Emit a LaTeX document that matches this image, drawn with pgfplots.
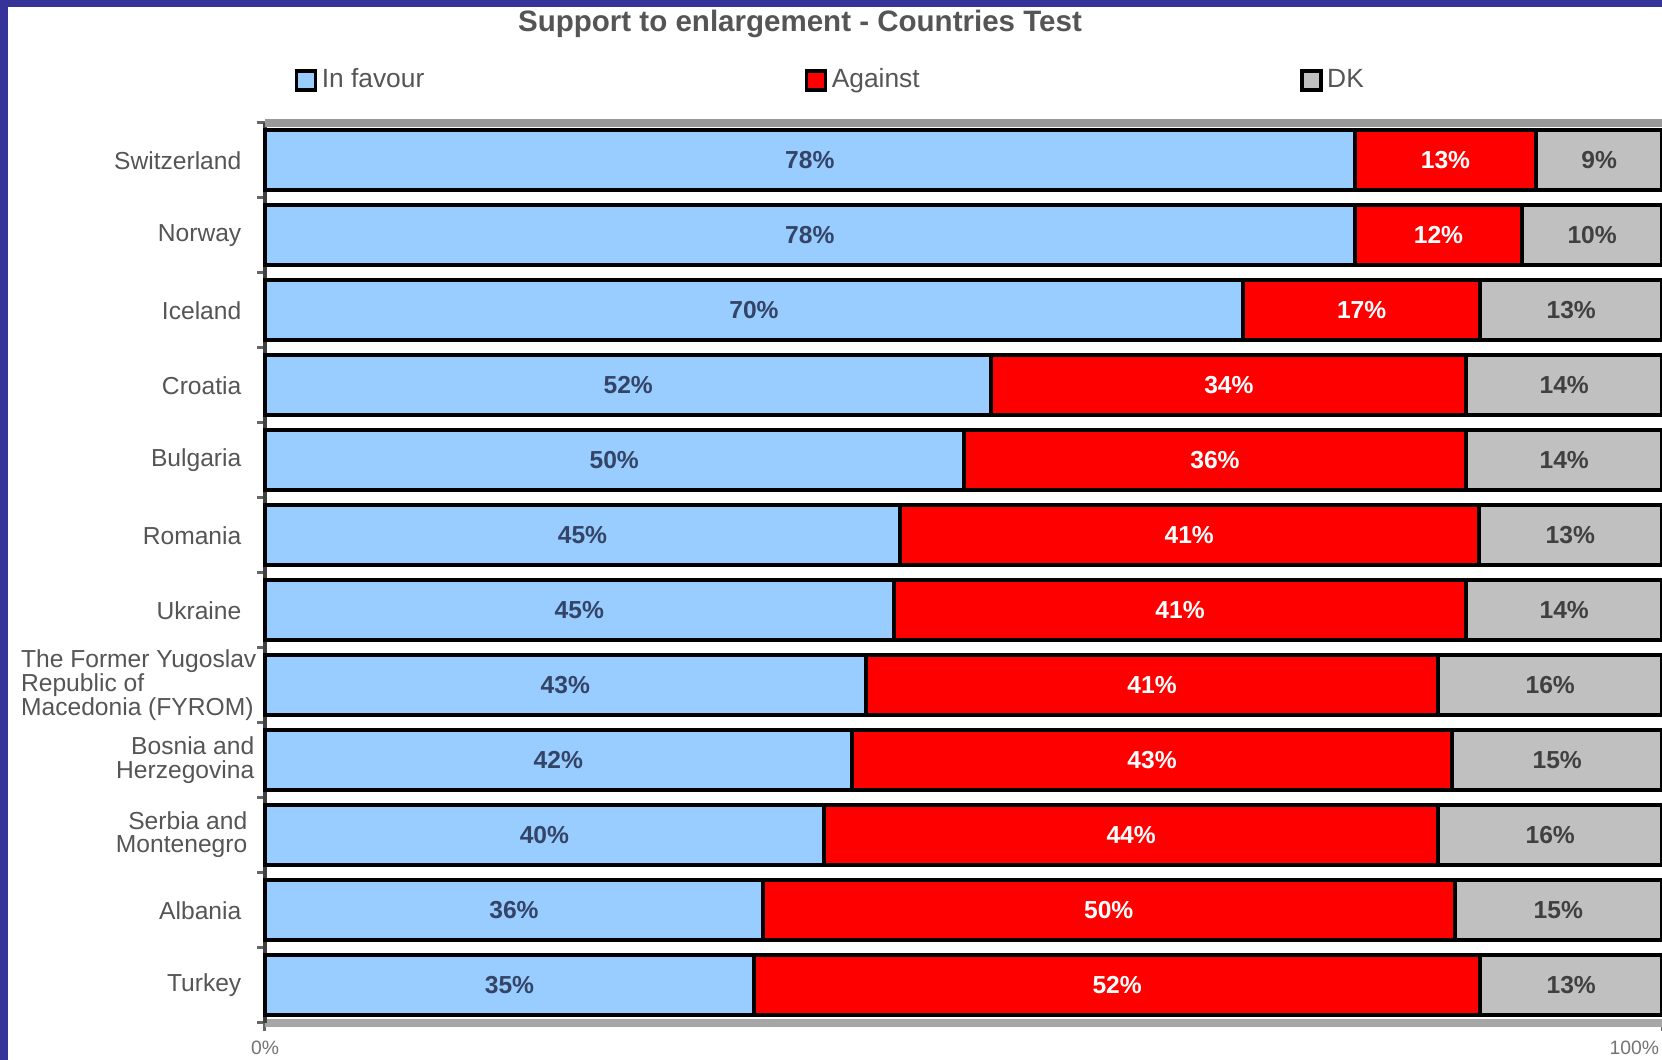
\documentclass[border=0pt]{standalone}
\usepackage{fontspec}
\setmainfont{Liberation Sans}
\usepackage{pgfplots}
\pgfplotsset{compat=1.18}
\usepackage{pgfplotstable}

\definecolor{favblue}{RGB}{153,204,255}
\definecolor{agred}{RGB}{255,0,0}
\definecolor{dkgrey}{RGB}{192,192,192}
\definecolor{framecol}{RGB}{54,51,153}
\definecolor{labgrey}{RGB}{85,85,85}
\definecolor{bluetxt}{RGB}{51,68,102}

% fav = in favour, ag = against, dk = don't know (row 0 = top bar)
\pgfplotstableread{
idx fav ag dk
0  78 13  9
1  78 12 10
2  70 17 13
3  52 34 14
4  50 36 14
5  45 41 13
6  45 41 14
7  43 41 16
8  42 43 15
9  40 44 16
10 36 50 15
11 35 52 13
}\survey

\newcommand{\pct}{\pgfmathprintnumber[assume math mode=true]{\pgfplotspointmeta}\%}
\newcommand{\lines}[3]{{\renewcommand{\arraystretch}{0.78}\begin{tabular}{@{}#1@{\hspace{#2}}}#3\end{tabular}}}

\begin{document}
\begin{tikzpicture}
\begin{axis}[
  at={(26.5mm,3.7mm)}, anchor=south west,
  scale only axis, width=139.7mm, height=90mm,
  xmin=0, xmax=100, ymin=-0.5, ymax=11.5, y dir=reverse,
  clip=false,
  axis x line*=bottom, axis y line*=left,
  x axis line style={draw=black!35, line width=0.8mm},
  y axis line style={draw=black!75, line width=0.45mm},
  tick align=outside, major tick length=0.8mm,
  tick style={draw=black!60, line width=0.3mm},
  xtick={0,100}, xticklabels={0\%,\llap{100\%\hspace{0.3mm}}},
  xticklabel style={font=\fontsize{5.5}{6}\selectfont, text=black!55, inner sep=0pt, yshift=-0.9mm},
  ytick={-0.5,0.5,...,11.5}, yticklabels={},
  extra y ticks={0,1,...,11},
  extra y tick labels={Switzerland,Norway,Iceland,Croatia,Bulgaria,Romania,Ukraine,
    {\lines{l}{-1.5mm}{The Former Yugoslav\\Republic of\\Macedonia (FYROM)}},
    {\lines{r}{-1.3mm}{Bosnia and\\Herzegovina}},
    {\lines{r}{-0.6mm}{Serbia and\\Montenegro}},Albania,Turkey},
  extra y tick style={tick style={draw=none}},
  yticklabel style={font=\fontsize{7}{7.4}\selectfont, text=labgrey, align=right, inner sep=0pt, xshift=-1.5mm},
  legend columns=3, reverse legend,
  legend style={at={(0.0208,1.047)}, anchor=west, draw=none, fill=none, inner sep=0pt,
    font=\fontsize{7.5}{8}\selectfont, text=labgrey,
    nodes={inner sep=0.45mm},
    /tikz/every even column/.append style={column sep=37.6mm}},
  legend image code/.code={\draw[#1, line width=0.35mm, draw=black] (0mm,-0.95mm) rectangle (1.9mm,0.95mm);},
  every node near coord/.append style={font=\bfseries\fontsize{7}{8}\selectfont},
]
% bars drawn back to front, each normalised to 100 percent
\addplot[xbar, bar width=6mm, bar shift=0pt, fill=dkgrey, draw=black, line width=0.4mm]
  table[x expr={100}, y=idx] {\survey};
\addlegendentry{DK}
\addplot[xbar, bar width=6mm, bar shift=0pt, fill=agred, draw=black, line width=0.4mm]
  table[x expr={100*(\thisrow{fav}+\thisrow{ag})/(\thisrow{fav}+\thisrow{ag}+\thisrow{dk})}, y=idx] {\survey};
\addlegendentry{Against}
\addplot[xbar, bar width=6mm, bar shift=0pt, fill=favblue, draw=black, line width=0.4mm]
  table[x expr={100*\thisrow{fav}/(\thisrow{fav}+\thisrow{ag}+\thisrow{dk})}, y=idx] {\survey};
\addlegendentry{In favour}

% value labels in the middle of each segment
\addplot[draw=none, mark=none, forget plot, point meta=explicit,
  nodes near coords=\pct, nodes near coords align=center,
  every node near coord/.append style={text=bluetxt}]
  table[x expr={50*\thisrow{fav}/(\thisrow{fav}+\thisrow{ag}+\thisrow{dk})}, y=idx, meta=fav] {\survey};
\addplot[draw=none, mark=none, forget plot, point meta=explicit,
  nodes near coords=\pct, nodes near coords align=center,
  every node near coord/.append style={text=white}]
  table[x expr={100*(\thisrow{fav}+0.5*\thisrow{ag})/(\thisrow{fav}+\thisrow{ag}+\thisrow{dk})}, y=idx, meta=ag] {\survey};
\addplot[draw=none, mark=none, forget plot, point meta=explicit,
  nodes near coords=\pct, nodes near coords align=center,
  every node near coord/.append style={text=black!75}]
  table[x expr={100*(\thisrow{fav}+\thisrow{ag}+0.5*\thisrow{dk})/(\thisrow{fav}+\thisrow{ag}+\thisrow{dk})}, y=idx, meta=dk] {\survey};

% grey band along the top of the plot area
\draw[draw=black!40, line width=0.8mm] (axis cs:0,-0.5) -- (axis cs:100,-0.5);
\end{axis}

\node[font=\bfseries\fontsize{8.4}{10}\selectfont, text=labgrey] at (80mm,103.6mm)
  {Support to enlargement - Countries Test};

\pgfresetboundingbox
\useasboundingbox (0,0) rectangle (166.2mm,106mm);
\fill[framecol] (0,0) rectangle (0.8mm,106mm);
\fill[framecol] (0,105.25mm) rectangle (166.2mm,106mm);
\end{tikzpicture}
\end{document}
